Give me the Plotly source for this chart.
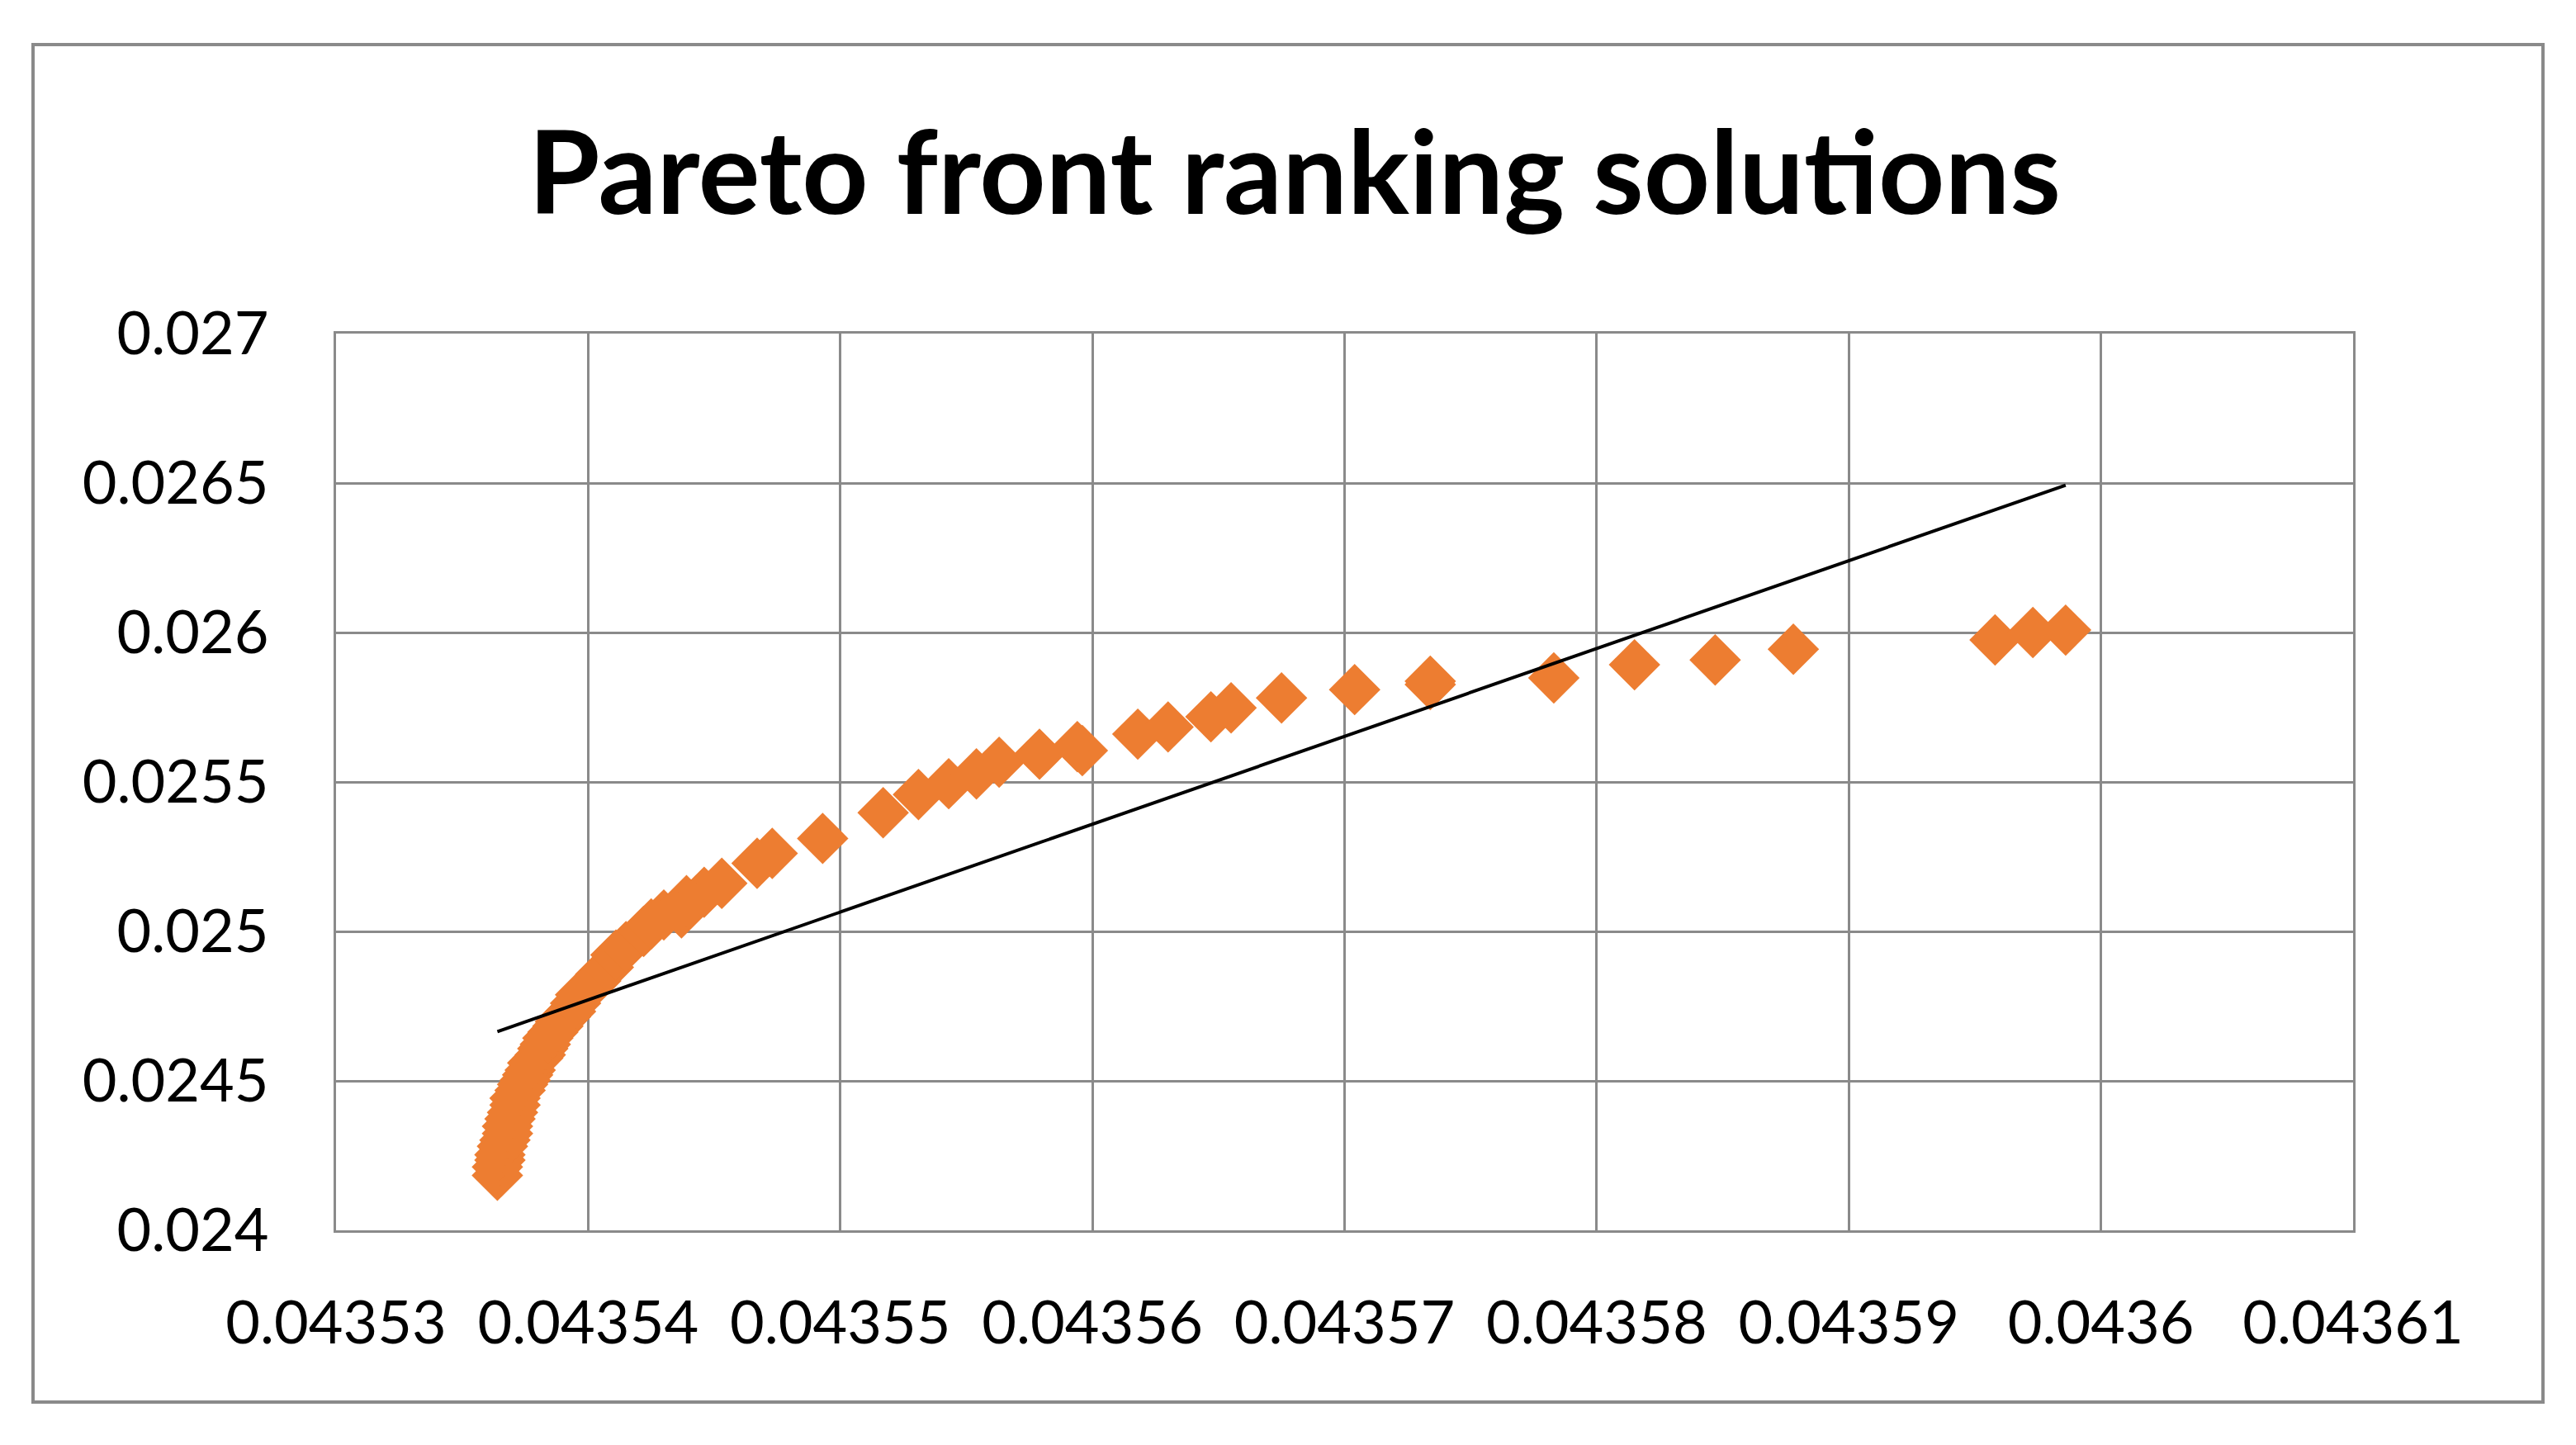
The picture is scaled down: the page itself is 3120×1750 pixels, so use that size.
import plotly.graph_objects as go

# Pareto front solutions (objective 1 on x, objective 2 on y)
obj1 = [
    0.0435364, 0.0435364, 0.0435365, 0.0435365, 0.0435366, 0.0435367, 0.0435368, 0.0435368,
    0.0435369, 0.0435370, 0.0435371, 0.0435371, 0.0435373, 0.0435374, 0.0435375, 0.0435376,
    0.0435377, 0.0435378, 0.0435380, 0.0435381, 0.0435382, 0.0435383, 0.0435384, 0.0435386,
    0.0435388, 0.0435389, 0.0435391, 0.0435393, 0.0435395, 0.0435397, 0.0435400, 0.0435403,
    0.0435405, 0.0435408, 0.0435411, 0.0435415, 0.0435422, 0.0435425, 0.0435430, 0.0435437,
    0.0435439, 0.0435446, 0.0435453, 0.0435467, 0.0435473, 0.0435493, 0.0435517, 0.0435531,
    0.0435543, 0.0435554, 0.0435563, 0.0435579, 0.0435594, 0.0435596, 0.0435618, 0.0435630,
    0.0435647, 0.0435655, 0.0435675, 0.0435704, 0.0435734, 0.0435734, 0.0435783, 0.0435815,
    0.0435847, 0.0435878, 0.0435958, 0.0435973, 0.0435986,
]
obj2 = [
    0.024184, 0.024212, 0.024235, 0.024253, 0.024281, 0.024302, 0.024324, 0.024348,
    0.024373, 0.024394, 0.024419, 0.024442, 0.024468, 0.024488, 0.024502, 0.024520,
    0.024536, 0.024560, 0.024576, 0.024587, 0.024608, 0.024622, 0.024643, 0.024663,
    0.024683, 0.024698, 0.024714, 0.024732, 0.024760, 0.024788, 0.024811, 0.024834,
    0.024857, 0.024880, 0.024921, 0.024949, 0.025000, 0.025025, 0.025055, 0.025062,
    0.025103, 0.025131, 0.025161, 0.025228, 0.025261, 0.025311, 0.025397, 0.025458,
    0.025494, 0.025527, 0.025566, 0.025593, 0.025618, 0.025605, 0.025660, 0.025684,
    0.025718, 0.025748, 0.025781, 0.025809, 0.025837, 0.025826, 0.025848, 0.025892,
    0.025908, 0.025944, 0.025975, 0.026000, 0.026008,
]

# linear trendline end points (as drawn)
trend_x = [0.0435364, 0.0435986]
trend_y = [0.024665, 0.026493]

x_ticks = [0.04353, 0.04354, 0.04355, 0.04356, 0.04357, 0.04358, 0.04359, 0.0436, 0.04361]
x_tick_labels = ["0.04353", "0.04354", "0.04355", "0.04356", "0.04357",
                 "0.04358", "0.04359", "0.0436", "0.04361"]
y_ticks = [0.024, 0.0245, 0.025, 0.0255, 0.026, 0.0265, 0.027]
y_tick_labels = ["0.024", "0.0245", "0.025", "0.0255", "0.026", "0.0265", "0.027"]

W, H = 3120, 1750
L, R, T, B = 399, 278, 396, 268
grid = "#8a8a8a"

fig = go.Figure()
fig.add_trace(go.Scatter(x=obj1, y=obj2, mode="markers",
                         marker=dict(symbol="diamond", size=48, color="#ED7D31", line=dict(width=0)),
                         showlegend=False))
fig.add_trace(go.Scatter(x=trend_x, y=trend_y, mode="lines",
                         line=dict(color="black", width=4), showlegend=False))

# outer chart frame, in pixels converted to paper coords
pw, ph = W - L - R, H - T - B
def px_x(p): return (p - L) / pw
def px_y(p): return (H - B - p) / ph
fig.add_shape(type="rect", xref="paper", yref="paper",
              x0=px_x(32), x1=px_x(3072), y0=px_y(1690), y1=px_y(46),
              line=dict(color=grid, width=4), layer="below")

fig.update_layout(
    width=W, height=H,
    margin=dict(l=L, r=R, t=T, b=B),
    paper_bgcolor="white", plot_bgcolor="white",
    font=dict(family="Lato", size=72, color="black"),
    title=dict(text="<b>Pareto front ranking solutions</b>", x=0.5, xanchor="center",
               y=1 - 202 / H, yanchor="middle", yref="container",
               font=dict(family="Lato", size=140, color="black")),
)
fig.update_xaxes(range=[0.04353, 0.04361], tickvals=x_ticks, ticktext=x_tick_labels,
                 showgrid=True, gridcolor=grid, gridwidth=3,
                 showline=True, linecolor=grid, linewidth=3, mirror=True,
                 zeroline=False, ticks="", ticklabelstandoff=48)
fig.update_yaxes(range=[0.024, 0.027], tickvals=y_ticks, ticktext=y_tick_labels,
                 showgrid=True, gridcolor=grid, gridwidth=3,
                 showline=True, linecolor=grid, linewidth=3, mirror=True,
                 zeroline=False, ticks="", ticklabelstandoff=64)

fig.write_html("out.html")
